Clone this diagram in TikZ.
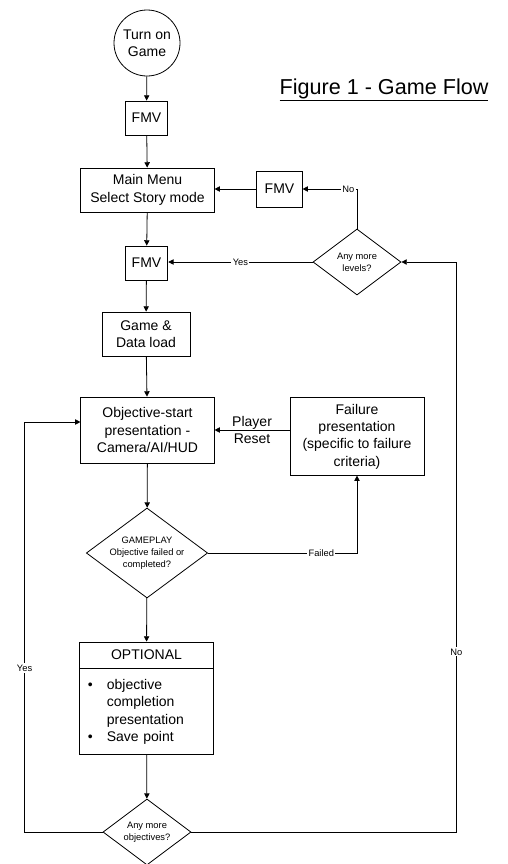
\documentclass[tikz,border=0pt]{standalone}
\usepackage{fontspec}
\setmainfont{Liberation Sans}
\usetikzlibrary{arrows.meta,shapes.geometric}
\tikzset{
  box/.style={draw,line width=0.6pt,fill=white,align=center,inner sep=2pt,
              font=\fontsize{10.5}{13}\selectfont},
  dbox/.style={draw,diamond,line width=0.6pt,fill=white,align=center,inner sep=0pt,
               aspect=1.33,font=\fontsize{7}{9}\selectfont},
  arr/.style={-{Triangle[length=4pt,width=4pt]},line width=0.6pt},
  lbl/.style={fill=white,inner sep=1pt,font=\fontsize{7}{8}\selectfont}
}
\newcommand{\bul}[1]{\makebox[14.25pt][l]{\textbullet}#1}
\newcommand{\ind}[1]{\makebox[14.25pt][l]{}#1}

\begin{document}
\begin{tikzpicture}[x=0.75pt,y=-0.75pt]
  \useasboundingbox (0,0) rectangle (507,864);
  \node[font=\fontsize{16.2}{18}\selectfont] (title) at (384,90) {\underline{Figure 1 - Game Flow}};
  % main column
  \node[box,circle,minimum size=49.5pt] (start) at (147,43) {Turn on\\Game};
  \node[box,minimum width=32pt,minimum height=25.5pt] (fmva) at (146.5,118) {FMV};
  \node[box,minimum width=100pt,minimum height=33pt] (menu) at (147.5,190) {Main Menu\\Select Story mode};
  \node[box,minimum width=32pt,minimum height=25.5pt] (fmvc) at (146.5,263) {FMV};
  \node[box,minimum width=66pt,minimum height=33pt] (load) at (146,334) {Game \&\\Data load};
  \node[box,minimum width=100pt,minimum height=49.5pt] (objstart) at (147.5,430) {Objective-start\\presentation -\\Camera/AI/HUD};
  \node[dbox,minimum width=91pt,minimum height=67.5pt] (gameplay) at (147,553) {GAMEPLAY\\Objective failed or\\completed?};
  \node[box,minimum width=100pt,minimum height=19.5pt] (opthead) at (146.5,655) {OPTIONAL};
  \node[box,anchor=north,minimum width=100pt,minimum height=64.5pt,text width=88pt,
        align=left,inner xsep=6pt] (optbody) at (opthead.south)
        {\bul{objective}\\\ind{completion}\\\ind{presentation}\\\bul{Save point}};
  \node[dbox,minimum width=66pt,minimum height=49.5pt] (objectives) at (147,832) {Any more\\objectives?};
  % right column
  \node[box,minimum width=34pt,minimum height=27pt] (fmvb) at (279.5,189) {FMV};
  \node[dbox,minimum width=66pt,minimum height=49.5pt] (levels) at (357,262) {Any more\\levels?};
  \node[box,minimum width=100.5pt,minimum height=58pt] (failure) at (357,436.5)
        {Failure\\presentation\\(specific to failure\\criteria)};

  \draw[arr] (start) -- (fmva);
  \draw[arr] (fmva) -- (menu);
  \draw[arr] (menu) -- (fmvc);
  \draw[arr] (fmvc) -- (load);
  \draw[arr] (load) -- (objstart);
  \draw[arr] (objstart) -- (gameplay);
  \draw[arr] (gameplay) -- (opthead);
  \draw[arr] (optbody) -- (objectives);
  \draw[arr] (fmvb.west) -- (fmvb.west -| menu.east);
  \draw[arr] (levels.north) |- node[lbl,pos=0.58]{No} (fmvb.east);
  \draw[arr] (levels.west) -- node[lbl]{Yes} (levels -| fmvc.east);
  \draw[arr] (objstart -| failure.west) -- node[align=center,font=\fontsize{10.5}{12.5}\selectfont]{Player\\Reset} (objstart.east);
  \draw[arr] (gameplay.east) -| node[lbl,pos=0.38]{Failed} (failure.south);
  \draw[arr] (objectives.west) -- ++(-78,0) |- node[lbl,pos=0.2]{Yes} ([yshift=6pt]objstart.west);
  \draw[arr] (objectives.east) -- ++(265,0) |- node[lbl,pos=0.158]{No} (levels.east);
\end{tikzpicture}
\end{document}
